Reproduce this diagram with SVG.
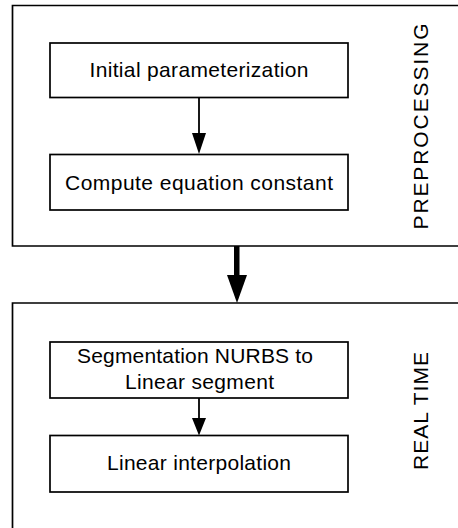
<svg xmlns="http://www.w3.org/2000/svg" width="458" height="528" viewBox="0 0 458 528">
<style>
.frame{fill:none;stroke:#000;stroke-width:1.7}
.box{fill:#fff;stroke:#000;stroke-width:1.7}
.t{font-family:"Liberation Sans",Arial,sans-serif;font-size:21px;fill:#000;text-anchor:middle}
.v{font-family:"Liberation Sans",Arial,sans-serif;font-size:21px;fill:#000;text-anchor:middle}
.ln{stroke:#000;stroke-width:1.8;fill:none}
</style>
<rect width="458" height="528" fill="#fff"/>
<g id="preprocessing">
<path class="frame" d="M470,5.5 H12.5 V246 H470"/>
<text class="v" transform="translate(427.5,126.5) rotate(-90)" textLength="206" lengthAdjust="spacing">PREPROCESSING</text>
</g>
<g id="realtime">
<path class="frame" d="M470,303 H12.5 V540"/>
<text class="v" transform="translate(427.5,411) rotate(-90)" textLength="118" lengthAdjust="spacing">REAL TIME</text>
</g>
<g id="n1">
<rect class="box" x="50" y="43" width="298" height="54.5"/>
<text class="t" x="199" y="77" textLength="219" lengthAdjust="spacing">Initial parameterization</text>
</g>
<g id="n2">
<rect class="box" x="50" y="154.5" width="298" height="55.5"/>
<text class="t" x="199" y="189.5" textLength="268" lengthAdjust="spacing">Compute equation constant</text>
</g>
<g id="n3">
<rect class="box" x="50" y="342" width="298" height="56"/>
<text class="t" x="195" y="363" textLength="236" lengthAdjust="spacing">Segmentation NURBS to</text>
<text class="t" x="199.5" y="388.5" textLength="149" lengthAdjust="spacing">Linear segment</text>
</g>
<g id="n4">
<rect class="box" x="50" y="435.5" width="298" height="56.5"/>
<text class="t" x="199" y="470" textLength="184" lengthAdjust="spacing">Linear interpolation</text>
</g>
<g id="connectors">
<line class="ln" x1="199" y1="97.5" x2="199" y2="135"/>
<polygon points="192,133 206,133 199,154"/>
<rect x="234" y="246" width="5.5" height="31"/>
<polygon points="227,275 247,275 237,303"/>
<line class="ln" x1="199" y1="398" x2="199" y2="420"/>
<polygon points="192,418 206,418 199,435.5"/>
</g>
</svg>
